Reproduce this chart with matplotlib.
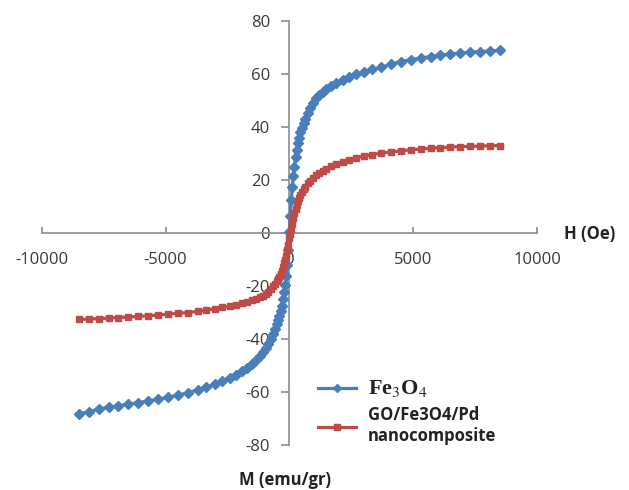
import matplotlib
matplotlib.use("Agg")
import matplotlib.pyplot as plt

# ---- data ----
H = [-8500, -8100, -7700, -7300, -6900, -6500, -6100, -5700, -5300, -4900,
     -4500, -4100, -3700, -3350, -3000, -2700, -2400, -2150, -1900, -1700,
     -1500, -1350, -1200, -1075, -950, -850, -750, -650, -575, -500,
     -450, -400, -350, -300, -250, -200, -160, -120, -80, -40,
     0,
     40, 80, 120, 160, 200, 250, 300, 350, 400, 450,
     500, 575, 650, 750, 850, 950, 1075, 1200, 1350, 1500,
     1700, 1900, 2150, 2400, 2700, 3000, 3350, 3700, 4100, 4500,
     4900, 5300, 5700, 6100, 6500, 6900, 7300, 7700, 8100, 8500]

M_fe3o4 = [-68.2, -67.5, -66.4, -65.8, -65.2, -64.6, -64.0, -63.4, -62.7, -62.0,
           -61.2, -60.3, -59.2, -58.2, -57.0, -55.8, -54.6, -53.4, -52.0, -50.8,
           -49.3, -48.0, -46.5, -45.0, -43.4, -41.8, -40.0, -38.0, -36.3, -34.5,
           -33.0, -31.3, -29.5, -27.5, -25.0, -22.2, -19.5, -16.2, -12.0, -6.5,
           0.5,
           6.5, 12.5, 17.5, 21.5, 25.0, 28.5, 31.5, 34.0, 36.0, 38.0,
           39.5, 41.5, 43.2, 45.3, 47.0, 49.0, 50.8, 52.1, 53.2, 54.2,
           55.4, 56.6, 57.8, 58.9, 59.9, 60.8, 61.7, 62.5, 63.7, 64.7,
           65.4, 66.0, 66.6, 67.1, 67.6, 67.9, 68.2, 68.4, 68.7, 68.9]

M_comp = [-32.6, -32.5, -32.3, -32.1, -31.9, -31.7, -31.5, -31.2, -31.0, -30.6,
          -30.3, -30.0, -29.6, -29.1, -28.6, -28.1, -27.6, -27.1, -26.5, -25.9,
          -25.3, -24.8, -24.2, -23.6, -22.9, -22.1, -21.2, -20.1, -19.2, -18.2,
          -17.4, -16.5, -15.5, -14.3, -13.0, -11.5, -10.0, -8.5, -6.5, -4.5,
          -2.0,
          -0.5, 1.5, 3.5, 5.5, 7.5, 9.0, 10.5, 12.0, 13.2, 14.4,
          15.5, 16.6, 17.5, 18.8, 19.8, 20.8, 21.8, 22.7, 23.5, 24.3,
          25.2, 26.0, 26.8, 27.6, 28.4, 29.0, 29.6, 30.1, 30.6, 31.0,
          31.4, 31.7, 32.0, 32.2, 32.4, 32.6, 32.7, 32.8, 32.9, 33.0]

x_ticks = [-10000, -5000, 0, 5000, 10000]
y_ticks = [-80, -60, -40, -20, 0, 20, 40, 60, 80]
label_fe = "Fe$_3$O$_4$"
label_comp = "GO/Fe3O4/Pd\nnanocomposite"
x_label = "H (Oe)"
y_label = "M (emu/gr)"

plt.rcParams['font.family'] = ['Open Sans', 'DejaVu Sans']
plt.rcParams['mathtext.fontset'] = 'stix'
plt.rcParams['axes.unicode_minus'] = False

W, Hpx = 629, 490
fig = plt.figure(figsize=(W / 100, Hpx / 100), dpi=100)
left_px, right_px, top_px, bot_px = 41.7, 537.0, 21.0, 445.0
ax = fig.add_axes([left_px / W, 1 - bot_px / Hpx,
                   (right_px - left_px) / W, (bot_px - top_px) / Hpx])

blue = "#4A7EBB"
red = "#BE4B48"
ax.plot(H, M_fe3o4, color=blue, lw=2.3, marker='D', ms=5.5, mec=blue,
        mfc=blue, label=label_fe, zorder=3)
ax.plot(H, M_comp, color=red, lw=2.3, marker='s', ms=5.0, mec=red,
        mfc=red, label=label_comp, zorder=4)

ax.set_xlim(-10000, 10000)
ax.set_ylim(-80, 80)
ax.set_xticks(x_ticks)
ax.set_yticks(y_ticks)

axis_col = "#8C8C8C"
for s in ['top', 'right']:
    ax.spines[s].set_visible(False)
ax.spines['left'].set_position(('data', 0))
ax.spines['bottom'].set_position(('data', 0))
for s in ['left', 'bottom']:
    ax.spines[s].set_color(axis_col)
    ax.spines[s].set_linewidth(1.2)

ax.tick_params(axis='x', direction='in', length=4, width=1.2, color=axis_col,
               pad=14, labelsize=12, labelcolor='#3A3A3A')
ax.tick_params(axis='y', direction='out', length=6, width=1.2, color=axis_col,
               pad=8, labelsize=12, labelcolor='#3A3A3A')

fig.text(590 / W, 1 - 234 / Hpx, x_label, ha='center', va='center',
         fontsize=12, fontweight='bold', color='#222222')
fig.text(285 / W, 1 - 480 / Hpx, y_label, ha='center', va='center',
         fontsize=12, fontweight='bold', color='#222222')

leg = ax.legend(loc='upper left', bbox_to_anchor=(306 / W, 1 - 366 / Hpx),
                bbox_transform=fig.transFigure, frameon=False,
                handlelength=2.3, handletextpad=0.7, labelspacing=0.45,
                borderpad=0.2, markerscale=0.8,
                prop={'size': 12, 'weight': 'bold'})
t0 = leg.get_texts()[0]
t0.set_fontfamily('Liberation Serif')
t0.set_fontsize(16)
t0.set_fontweight('bold')
t0.set_color('#222222')
leg.get_texts()[1].set_color('#222222')

fig.savefig("out.png", dpi=100)
